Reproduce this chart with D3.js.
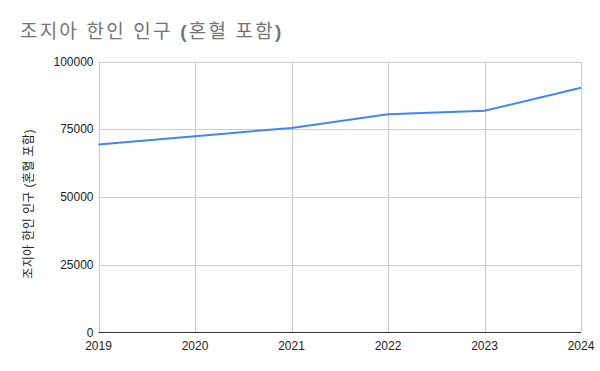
<!doctype html>
<html>
<head>
<meta charset="utf-8">
<script src="https://d3js.org/d3.v7.min.js"></script>
<style>
  body { margin: 0; background: #fff; }
  text { font-family: Arial, "Liberation Sans", "Noto Sans CJK KR", sans-serif; }
</style>
</head>
<body>
<script>
// data
var years = ["2019", "2020", "2021", "2022", "2023", "2024"];
var population = [69350, 72450, 75500, 80550, 81800, 90300];
var yTicks = [0, 25000, 50000, 75000, 100000];

var width = 600, height = 371;
var plotLeft = 98.5, plotRight = 581, plotTop = 61.5, plotBottom = 332.5;

var svg = d3.select("body").append("svg")
  .attr("width", width)
  .attr("height", height);

var x = d3.scalePoint().domain(years).range([plotLeft, plotRight]);
var y = d3.scaleLinear().domain([0, 100000]).range([plotBottom, plotTop]);

// title (parentheses look bold in the original)
var title = svg.append("text")
  .attr("x", 20)
  .attr("y", 38)
  .attr("font-size", 19)
  .attr("letter-spacing", 2.2)
  .attr("fill", "#757575");
title.append("tspan").text("조지아 한인 인구 ");
title.append("tspan").attr("font-weight", "bold").text("(");
title.append("tspan").text("혼혈 포함");
title.append("tspan").attr("font-weight", "bold").text(")");

// horizontal gridlines
svg.append("g")
  .selectAll("line")
  .data(yTicks.filter(function (d) { return d > 0; }))
  .enter().append("line")
  .attr("x1", plotLeft).attr("x2", plotRight)
  .attr("y1", function (d) { return Math.round(y(d)) + 0.5; })
  .attr("y2", function (d) { return Math.round(y(d)) + 0.5; })
  .attr("stroke", "#cccccc");

// vertical gridlines
svg.append("g")
  .selectAll("line")
  .data(years)
  .enter().append("line")
  .attr("x1", function (d) { return Math.round(x(d)) + 0.5; })
  .attr("x2", function (d) { return Math.round(x(d)) + 0.5; })
  .attr("y1", plotTop).attr("y2", plotBottom)
  .attr("stroke", "#cccccc");

// y tick labels
svg.append("g")
  .selectAll("text")
  .data(yTicks)
  .enter().append("text")
  .attr("x", plotLeft - 5)
  .attr("y", function (d) { return y(d) + 4; })
  .attr("text-anchor", "end")
  .attr("font-size", 12)
  .attr("fill", "#222")
  .text(function (d) { return d; });

// x tick labels
svg.append("g")
  .selectAll("text")
  .data(years)
  .enter().append("text")
  .attr("x", function (d) { return x(d); })
  .attr("y", plotBottom + 17)
  .attr("text-anchor", "middle")
  .attr("font-size", 12)
  .attr("fill", "#222")
  .text(function (d) { return d; });

// baseline
svg.append("line")
  .attr("x1", plotLeft).attr("x2", plotRight)
  .attr("y1", plotBottom).attr("y2", plotBottom)
  .attr("stroke", "#333")
  .attr("stroke-width", 1);

// y axis title
svg.append("text")
  .attr("transform", "translate(33," + ((plotTop + plotBottom) / 2 + 7) + ") rotate(-90)")
  .attr("text-anchor", "middle")
  .attr("font-size", 12)
  .attr("letter-spacing", 0.4)
  .attr("fill", "#222")
  .text("조지아 한인 인구 (혼혈 포함)");

// line
var line = d3.line()
  .x(function (d, i) { return x(years[i]); })
  .y(function (d) { return y(d); });

svg.append("path")
  .datum(population)
  .attr("d", line)
  .attr("fill", "none")
  .attr("stroke", "#4285f4")
  .attr("stroke-width", 2);
</script>
</body>
</html>
